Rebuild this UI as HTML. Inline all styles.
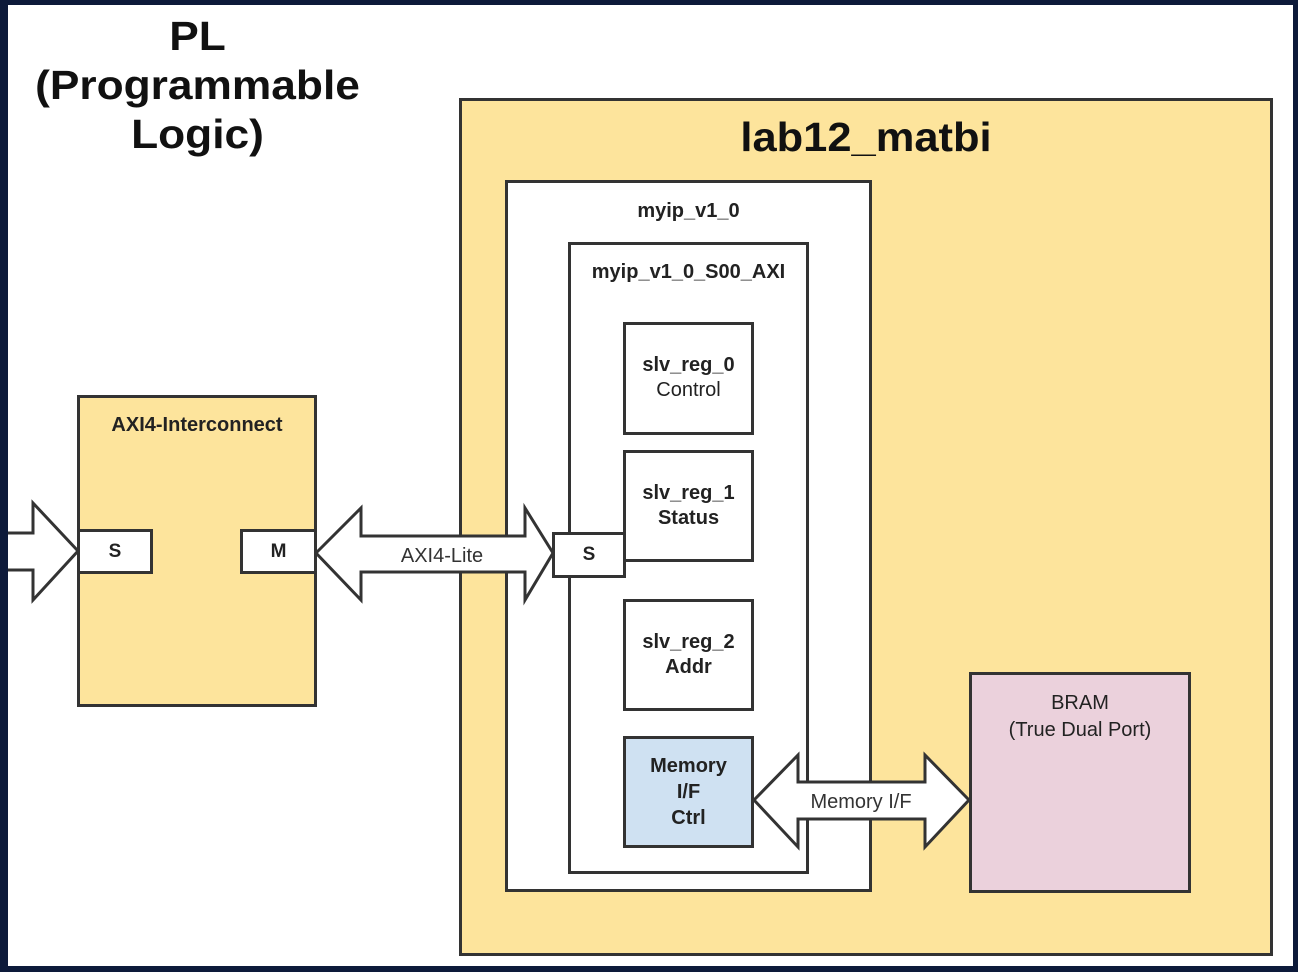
<!DOCTYPE html>
<html><head><meta charset="utf-8"><style>
body{margin:0;width:1298px;height:972px;background:#0d1a3a;position:relative;overflow:hidden;font-family:"Liberation Sans",sans-serif}
.bg{position:absolute;left:8px;top:5px;width:1285px;height:961px;background:#fff}
.b{position:absolute;box-sizing:border-box;border:3px solid #333;color:#222;font-weight:bold;text-align:center}
.t{position:absolute;font-weight:bold;color:#111;text-align:center}
svg{position:absolute;left:0;top:0}
</style></head><body>
<div class="bg"></div>
<div class="t" style="left:20px;top:12px;width:355px;font-size:41px;line-height:49px;transform:scaleX(1.08)">PL<br>(Programmable<br>Logic)</div>
<div class="b" style="left:459px;top:98px;width:814px;height:858px;background:#fde49c"></div>
<div class="t" style="left:700px;top:114px;width:332px;font-size:41px;transform:scaleX(1.06)">lab12_matbi</div>
<div class="b" style="left:505px;top:180px;width:367px;height:712px;background:#fff;font-size:20px;padding-top:17px">myip_v1_0</div>
<div class="b" style="left:568px;top:242px;width:241px;height:632px;background:#fff;font-size:20px;padding-top:16px">myip_v1_0_S00_AXI</div>
<div class="b" style="left:623px;top:322px;width:131px;height:113px;background:#fff;font-size:20px;padding-top:28px;line-height:25px">slv_reg_0<br><span style="font-weight:normal">Control</span></div>
<div class="b" style="left:623px;top:450px;width:131px;height:112px;background:#fff;font-size:20px;padding-top:28px;line-height:25px">slv_reg_1<br>Status</div>
<div class="b" style="left:623px;top:599px;width:131px;height:112px;background:#fff;font-size:20px;padding-top:28px;line-height:25px">slv_reg_2<br>Addr</div>
<div class="b" style="left:623px;top:736px;width:131px;height:112px;background:#cfe1f2;font-size:20px;padding-top:14px;line-height:26px">Memory<br>I/F<br>Ctrl</div>
<div class="b" style="left:969px;top:672px;width:222px;height:221px;background:#ebd1dc;font-size:20px;font-weight:normal;padding-top:15px;line-height:27px">BRAM<br>(True Dual Port)</div>
<div class="b" style="left:77px;top:395px;width:240px;height:312px;background:#fde49c;font-size:20px;padding-top:16px">AXI4-Interconnect</div>
<svg width="1298" height="972">
<g fill="#fff" stroke="#333" stroke-width="3" stroke-linejoin="miter">
<polygon points="4,533 33,533 33,503 78,551 33,600 33,570 4,570"/>
<polygon points="316,553 361,508 361,536 525,536 525,508 553,553 525,600 525,572 361,572 361,600"/>
<polygon points="754,800 798,755 798,782 925,782 925,755 969,800 925,847 925,819 798,819 798,847"/>
</g>
<text x="442" y="562" font-size="20" text-anchor="middle" fill="#333" font-family="Liberation Sans">AXI4-Lite</text>
<text x="861" y="808" font-size="20" text-anchor="middle" fill="#333" font-family="Liberation Sans">Memory I/F</text>
</svg>
<div style="position:absolute;left:0;top:0;width:8px;height:972px;background:#0d1a3a"></div>
<div class="b" style="left:77px;top:529px;width:76px;height:45px;background:#fff;font-size:19px;line-height:39px">S</div>
<div class="b" style="left:240px;top:529px;width:77px;height:45px;background:#fff;font-size:19px;line-height:39px">M</div>
<div class="b" style="left:552px;top:532px;width:74px;height:46px;background:#fff;font-size:19px;line-height:40px">S</div>
</body></html>
